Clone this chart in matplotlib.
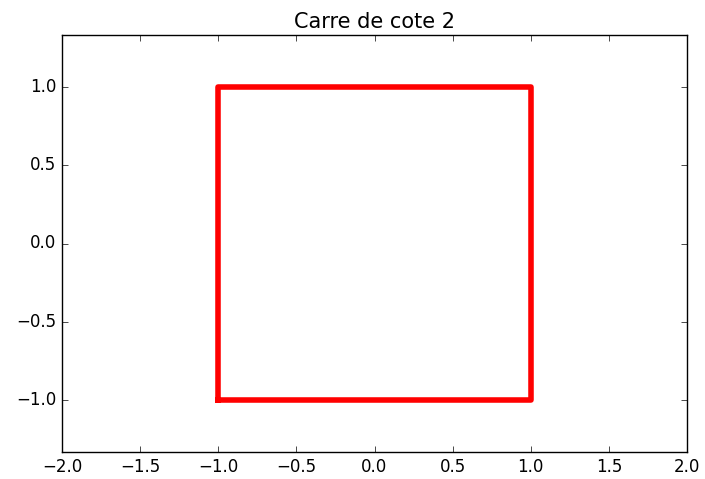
import matplotlib
matplotlib.use("Agg")
import matplotlib.pyplot as plt

plt.style.use("classic")

# sommets du carre
x = [-1, -1, 1, 1, -1]
y = [-1, 1, 1, -1, -1]

fig = plt.figure(figsize=(7.05, 4.79), dpi=100, facecolor="white")
ax = fig.add_axes([62/705, 1-452/479, 625/705, 417/479])
ax.plot(x, y, color="red", linewidth=4)
ax.set_xlim(-2, 2)
ax.set_ylim(-1.334, 1.334)
ax.set_xticks([-2.0, -1.5, -1.0, -0.5, 0.0, 0.5, 1.0, 1.5, 2.0])
ax.set_yticks([-1.0, -0.5, 0.0, 0.5, 1.0])
ax.set_title("Carre de cote 2", fontsize=15)
ax.tick_params(labelsize=12)
fig.savefig("out.png", dpi=100, facecolor="white")
